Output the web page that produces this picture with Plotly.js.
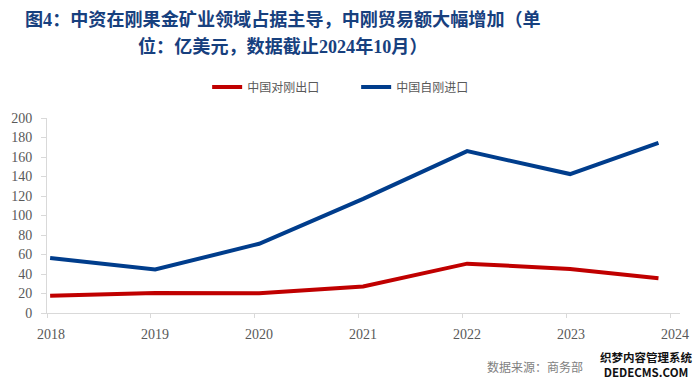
<!DOCTYPE html>
<html>
<head>
<meta charset="utf-8">
<script src="https://cdn.plot.ly/plotly-3.0.1.min.js"></script>
<style>html,body{margin:0;padding:0;background:#fff;}#chart{width:699px;height:386px;}</style>
</head>
<body>
<div id="chart"></div>
<script>
// Data (亿美元)
const yearTicks = [2018, 2019, 2020, 2021, 2022, 2023, 2024];
const xPos = [2018.03, 2019.04, 2020.04, 2021.04, 2022.04, 2023.03, 2023.88];
const exportsToDRC = [17.6, 20.6, 20.2, 27.2, 50.6, 45.2, 35.7];
const importsFromDRC = [56.5, 44.6, 71.0, 117.0, 166.0, 142.5, 174.6];
const seriesNames = ['中国对刚出口', '中国自刚进口'];
const titleLine1 = '图4：中资在刚果金矿业领域占据主导，中刚贸易额大幅增加（单';
const titleLine2 = '位：亿美元，数据截止2024年10月）';
const sourceText = '数据来源：商务部';
const watermarkText = '织梦内容管理系统<br>DEDECMS.COM';

const serif = 'Liberation Serif, Times New Roman, Noto Sans CJK SC, serif';
const cjk = 'Noto Sans CJK SC, sans-serif';

const traces = [
  {x: xPos, y: exportsToDRC, name: seriesNames[0], type: 'scatter', mode: 'lines',
   line: {color: '#C00000', width: 4}},
  {x: xPos, y: importsFromDRC, name: seriesNames[1], type: 'scatter', mode: 'lines',
   line: {color: '#003D8C', width: 4}}
];

const layout = {
  width: 699, height: 386,
  margin: {l: 47, r: 19, t: 118, b: 73},
  paper_bgcolor: '#fff', plot_bgcolor: '#fff',
  showlegend: true,
  legend: {orientation: 'h', x: 0.253, xanchor: 'left', y: 1.159, yanchor: 'middle',
           font: {family: cjk, size: 12, color: '#595959'}, entrywidth: 104, entrywidthmode: 'pixels',
           bgcolor: 'rgba(0,0,0,0)'},
  xaxis: {range: [2018, 2024.087], tickvals: yearTicks, ticktext: yearTicks.map(String),
          showgrid: false, zeroline: false, showline: true, linecolor: '#D9D9D9', linewidth: 1,
          ticks: 'outside', ticklen: 4, tickcolor: '#D9D9D9',
          tickfont: {family: serif, size: 14, color: '#595959'}, ticklabelshift: 4, ticklabelstandoff: 4},
  yaxis: {range: [0, 200], dtick: 20, tick0: 0,
          showgrid: false, zeroline: false, showline: true, linecolor: '#D9D9D9', linewidth: 1,
          ticks: 'outside', ticklen: 5, tickcolor: '#D9D9D9',
          tickfont: {family: serif, size: 14, color: '#595959'}, ticklabelstandoff: 6},
  annotations: [
    {text: '<b>' + titleLine1 + '</b>', xref: 'paper', yref: 'paper', x: 0.373, y: 1.5026,
     xanchor: 'center', yanchor: 'middle', showarrow: false,
     font: {family: serif, size: 18.1, color: '#17407E'}},
    {text: '<b>' + titleLine2 + '</b>', xref: 'paper', yref: 'paper', x: 0.373, y: 1.369,
     xanchor: 'center', yanchor: 'middle', showarrow: false,
     font: {family: serif, size: 18.1, color: '#17407E'}},
    {text: sourceText, xref: 'paper', yref: 'paper', x: 0.692, y: -0.275,
     xanchor: 'left', yanchor: 'middle', showarrow: false,
     font: {family: cjk, size: 12, color: '#7F7F7F'}},
    {text: '<b>' + watermarkText + '</b>', xref: 'paper', yref: 'paper', x: 1.021, y: -0.266,
     xanchor: 'right', yanchor: 'middle', showarrow: false, bgcolor: '#fff', borderpad: 0,
     font: {family: cjk, size: 11.5, color: '#111'}}
  ]
};

Plotly.newPlot('chart', traces, layout, {displayModeBar: false, staticPlot: true});
</script>
</body>
</html>
